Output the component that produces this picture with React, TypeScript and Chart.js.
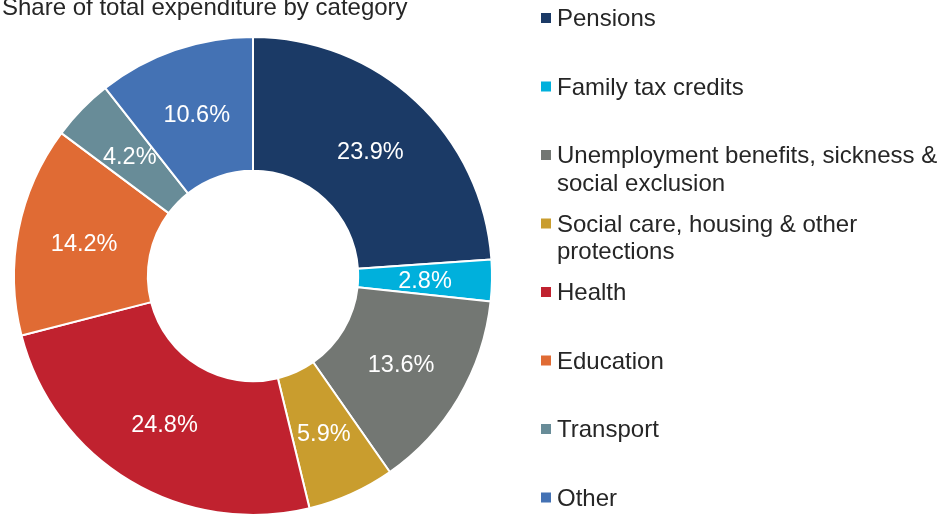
import React, { useEffect, useRef } from "react";
import { Chart, registerables } from "chart.js";

Chart.register(...registerables);

const TITLE = "Share of total expenditure by category";
const categories = [
  "Pensions",
  "Family tax credits",
  "Unemployment benefits, sickness & social exclusion",
  "Social care, housing & other protections",
  "Health",
  "Education",
  "Transport",
  "Other",
];
const shares = [23.9, 2.8, 13.6, 5.9, 24.8, 14.2, 4.2, 10.6];
const colors = [
  "#1B3A66",
  "#00B0DC",
  "#737773",
  "#C99D2E",
  "#C0222F",
  "#E06B34",
  "#688C98",
  "#4472B4",
];

const LABEL_FONT = '23.5px "Liberation Sans", Arial, sans-serif';
const FONT = '24px "Liberation Sans", Arial, sans-serif';
const TEXT_COLOR = "#262626";

function wrap(ctx: CanvasRenderingContext2D, text: string, maxW: number): string[] {
  const words = text.split(" ");
  const lines: string[] = [];
  let cur = "";
  for (const w of words) {
    const t = cur ? cur + " " + w : w;
    if (ctx.measureText(t).width > maxW && cur) {
      lines.push(cur);
      cur = w;
    } else cur = t;
  }
  if (cur) lines.push(cur);
  return lines;
}

const extrasPlugin = {
  id: "extras",
  afterDatasetsDraw(chart: any) {
    const ctx: CanvasRenderingContext2D = chart.ctx;
    const meta = chart.getDatasetMeta(0);
    ctx.save();
    ctx.font = LABEL_FONT;
    ctx.fillStyle = "#FFFFFF";
    ctx.textAlign = "center";
    ctx.textBaseline = "middle";
    meta.data.forEach((arc: any, i: number) => {
      const p = arc.tooltipPosition();
      ctx.fillText(shares[i].toFixed(1) + "%", p.x, p.y + 2);
    });

    // title
    ctx.font = FONT;
    ctx.textAlign = "left";
    ctx.textBaseline = "alphabetic";
    ctx.fillStyle = TEXT_COLOR;
    ctx.fillText(TITLE, 2, 15);

    // legend
    const x0 = 541;
    const textX = 557;
    const top = 18;
    const step = 68.5;
    categories.forEach((c, i) => {
      const cy = top + i * step;
      ctx.fillStyle = colors[i];
      ctx.fillRect(x0, cy - 5, 10, 10);
      ctx.fillStyle = TEXT_COLOR;
      const lines = wrap(ctx, c, 385);
      lines.forEach((ln, j) => {
        ctx.fillText(ln, textX, cy + 8 + j * 27.5);
      });
    });
    ctx.restore();
  },
};

export default function App() {
  const ref = useRef<HTMLCanvasElement>(null);
  useEffect(() => {
    if (!ref.current) return;
    const chart = new Chart(ref.current, {
      type: "doughnut",
      data: {
        labels: categories,
        datasets: [
          {
            data: shares,
            backgroundColor: colors,
            borderColor: "#FFFFFF",
            borderWidth: 2,
          },
        ],
      },
      options: {
        responsive: false,
        animation: false,
        cutout: "44%",
        layout: { padding: { left: 13, right: 451, top: 36, bottom: 24 } },
        plugins: {
          legend: { display: false },
          tooltip: { enabled: false },
          title: { display: false },
        },
      },
      plugins: [extrasPlugin],
    });
    return () => chart.destroy();
  }, []);
  return (
    <div
      style={{
        position: "fixed",
        left: 0,
        top: 0,
        width: 944,
        height: 516,
        overflow: "hidden",
        background: "#FFFFFF",
      }}
    >
      <canvas ref={ref} width={944} height={540} style={{ width: 944, height: 540, display: "block" }} />
    </div>
  );
}
